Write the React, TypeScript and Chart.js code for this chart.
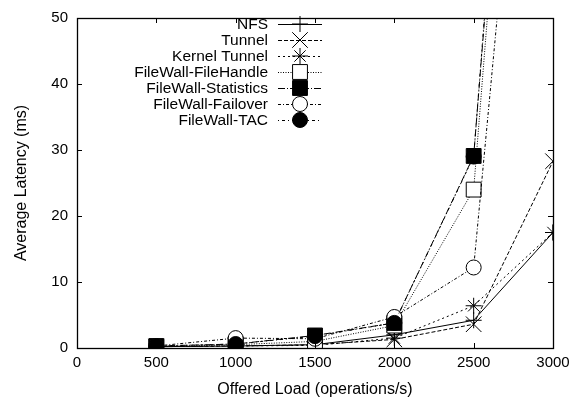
import React, { useEffect, useRef } from 'react';
import { Chart, registerables } from 'chart.js';

Chart.register(...registerables);

const loads = [500, 1000, 1500, 2000, 2500, 3000];
const nfs = [0.2, 0.3, 0.5, 2.0, 4.2, 17.5];
const tunnel = [0.2, 0.3, 0.5, 1.3, 3.6, 28.3];
const kernelTunnel = [0.2, 0.3, 0.4, 1.5, 6.4, 17.5];
const fileHandle = [0.2, 0.5, 1.0, 3.4, 24.0, 175];
const statistics = [0.3, 0.6, 1.9, 3.8, 29.1, 180];
const failover = [0.3, 1.5, 1.4, 4.7, 12.2, 140];
const tac = [0.3, 0.6, 1.8, 3.8, 29.0, 185];

const xTickValues = [0, 500, 1000, 1500, 2000, 2500, 3000];
const yTickValues = [0, 10, 20, 30, 40, 50];

const FONT = '"Liberation Sans", Arial, Helvetica, sans-serif';

type Spec = {
  label: string;
  values: number[];
  dash: number[];
  style: string;
  radius: number;
  fill: string;
};

const specs: Spec[] = [
  { label: 'NFS', values: nfs, dash: [], style: 'cross', radius: 8, fill: '#000' },
  { label: 'Tunnel', values: tunnel, dash: [4, 2], style: 'crossRot', radius: 11, fill: '#000' },
  { label: 'Kernel Tunnel', values: kernelTunnel, dash: [2, 3], style: 'star', radius: 8, fill: '#000' },
  { label: 'FileWall-FileHandle', values: fileHandle, dash: [1, 1.5], style: 'rect', radius: 10.5, fill: '#fff' },
  { label: 'FileWall-Statistics', values: statistics, dash: [7, 2, 1, 2], style: 'rect', radius: 10.5, fill: '#000' },
  { label: 'FileWall-Failover', values: failover, dash: [3, 2, 1, 2], style: 'circle', radius: 7.5, fill: '#fff' },
  { label: 'FileWall-TAC', values: tac, dash: [1, 3, 3, 3], style: 'circle', radius: 7.5, fill: '#000' },
];

function drawMarker(ctx: CanvasRenderingContext2D, style: string, x: number, y: number, r: number, fill: string) {
  ctx.save();
  ctx.setLineDash([]);
  ctx.lineWidth = 1;
  ctx.strokeStyle = '#000';
  ctx.fillStyle = fill;
  ctx.beginPath();
  const c = Math.SQRT1_2 * r;
  if (style === 'cross' || style === 'star') {
    ctx.moveTo(x - r, y); ctx.lineTo(x + r, y);
    ctx.moveTo(x, y - r); ctx.lineTo(x, y + r);
  }
  if (style === 'crossRot' || style === 'star') {
    ctx.moveTo(x - c, y - c); ctx.lineTo(x + c, y + c);
    ctx.moveTo(x - c, y + c); ctx.lineTo(x + c, y - c);
  }
  if (style === 'rect') {
    ctx.rect(x - c, y - c, 2 * c, 2 * c);
    ctx.fill();
  }
  if (style === 'circle') {
    ctx.arc(x, y, r, 0, Math.PI * 2);
    ctx.fill();
  }
  ctx.stroke();
  ctx.restore();
}

const framePlugin = {
  id: 'frame',
  afterDatasetsDraw(chart: any) {
    const { ctx, chartArea: a, scales } = chart;
    ctx.save();
    ctx.strokeStyle = '#000';
    ctx.lineWidth = 1;
    ctx.setLineDash([]);
    ctx.beginPath();
    const t = 5;
    xTickValues.forEach((v) => {
      const px = Math.round(scales.x.getPixelForValue(v)) + 0.5;
      ctx.moveTo(px, a.bottom); ctx.lineTo(px, a.bottom - t);
      ctx.moveTo(px, a.top); ctx.lineTo(px, a.top + t);
    });
    yTickValues.forEach((v) => {
      const py = Math.round(scales.y.getPixelForValue(v)) + 0.5;
      ctx.moveTo(a.left, py); ctx.lineTo(a.left + t, py);
      ctx.moveTo(a.right, py); ctx.lineTo(a.right - t, py);
    });
    ctx.stroke();
    ctx.lineWidth = 1.3;
    ctx.strokeRect(Math.round(a.left) + 0.5, Math.round(a.top) + 0.5, Math.round(a.right - a.left), Math.round(a.bottom - a.top));
    ctx.restore();
  },
  afterDraw(chart: any) {
    const { ctx } = chart;
    ctx.save();
    ctx.font = `15.5px ${FONT}`;
    ctx.textAlign = 'right';
    ctx.textBaseline = 'middle';
    ctx.fillStyle = '#000';
    const textRight = 268;
    const lineL = 278;
    const lineR = 322;
    const mx = 300;
    specs.forEach((s, i) => {
      const y = 24 + i * 16;
      ctx.fillText(s.label, textRight, y + 1);
      ctx.beginPath();
      ctx.setLineDash(s.dash);
      ctx.lineWidth = 1;
      ctx.strokeStyle = '#000';
      ctx.moveTo(lineL, y + 0.5);
      ctx.lineTo(lineR, y + 0.5);
      ctx.stroke();
      drawMarker(ctx, s.style, mx, y, s.radius, s.fill);
    });
    ctx.restore();
  },
};

export default function App() {
  const ref = useRef<HTMLCanvasElement | null>(null);
  useEffect(() => {
    document.body.style.margin = '0';
    if (!ref.current) return;
    const chart = new Chart(ref.current, {
      type: 'line',
      data: {
        datasets: specs.map((s, i) => ({
          label: s.label,
          data: loads.map((x, j) => ({ x, y: s.values[j] })),
          order: specs.length - i,
          borderColor: '#000',
          borderWidth: 1,
          borderDash: s.dash,
          backgroundColor: s.fill,
          pointStyle: s.style as any,
          pointRadius: s.radius,
          pointBackgroundColor: s.fill,
          pointBorderColor: '#000',
          pointBorderWidth: 1,
          tension: 0,
          fill: false,
        })),
      },
      options: {
        animation: false,
        responsive: true,
        maintainAspectRatio: false,
        layout: { padding: { top: 11, right: 29, left: 0, bottom: 0 } },
        plugins: { legend: { display: false }, tooltip: { enabled: false } },
        scales: {
          x: {
            type: 'linear',
            min: 0,
            max: 3000,
            afterFit: (s: any) => { s.height = 53; },
            afterBuildTicks: (s: any) => { s.ticks = xTickValues.map((v) => ({ value: v })); },
            grid: { display: false, drawTicks: false },
            border: { display: false },
            ticks: { color: '#000', font: { family: FONT, size: 15 }, padding: 6, maxRotation: 0, callback: (v: any) => String(v) },
            title: { display: true, text: 'Offered Load (operations/s)', color: '#000', font: { family: FONT, size: 16 }, padding: { top: 0, bottom: 1.5 } },
          },
          y: {
            type: 'linear',
            min: 0,
            max: 50,
            afterFit: (s: any) => { s.width = 77; },
            afterBuildTicks: (s: any) => { s.ticks = yTickValues.map((v) => ({ value: v })); },
            grid: { display: false, drawTicks: false },
            border: { display: false },
            ticks: { color: '#000', font: { family: FONT, size: 15 }, padding: 9, callback: (v: any) => String(v) },
            title: { display: true, text: 'Average Latency (ms)', color: '#000', font: { family: FONT, size: 16 }, padding: { top: 11.5, bottom: 0 } },
          },
        },
      },
      plugins: [framePlugin],
    });
    return () => chart.destroy();
  }, []);
  return (
    <div style={{ width: 582, height: 401, position: 'relative' }}>
      <canvas ref={ref} />
    </div>
  );
}
